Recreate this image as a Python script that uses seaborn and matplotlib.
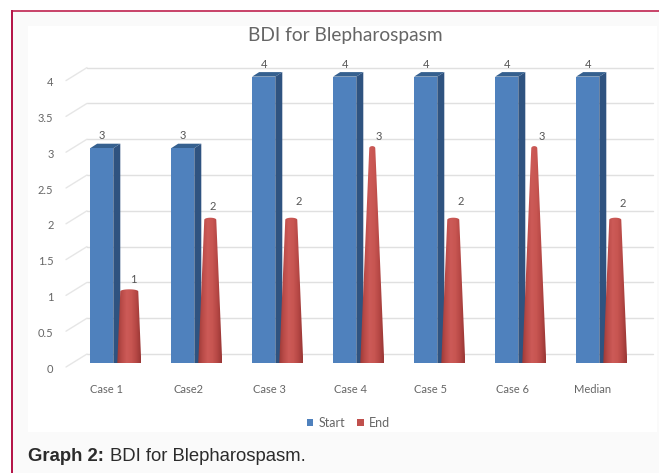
import numpy as np
import pandas as pd
import seaborn as sns
from matplotlib import pyplot as plt
from matplotlib.colors import LinearSegmentedColormap
from matplotlib.patches import Polygon, Rectangle
from matplotlib.transforms import ScaledTranslation

cases = ["Case 1", "Case2", "Case 3", "Case 4", "Case 5", "Case 6", "Median"]
start_vals = [3, 3, 4, 4, 4, 4, 4]
end_vals = [1, 2, 2, 3, 2, 3, 2]
y_ticks = [0, 0.5, 1, 1.5, 2, 2.5, 3, 3.5, 4]
y_tick_labels = ["0", "0.5", "1", "1.5", "2", "2.5", "3", "3.5", "4"]

W, H = 659, 473
STEP_X, STEP_Y = 81, 71.6
GRAY = "#666666"
FONT = "Lato"


def px(dx, dy):
    # pixel offset to points, for offset transforms
    return ScaledTranslation(dx / 100, -dy / 100, fig.dpi_scale_trans)


df = pd.DataFrame({
    "case": cases * 2,
    "score": start_vals + end_vals,
    "series": ["Start"] * 7 + ["End"] * 7,
})

sns.set_style("white")
plt.rcParams["font.family"] = [FONT, "DejaVu Sans"]

fig = plt.figure(figsize=(W / 100, H / 100), dpi=100, facecolor="white")


def fig_rect(x0, y0, x1, y1, color):
    fig.add_artist(Rectangle((x0 / W, 1 - y1 / H), (x1 - x0) / W, (y1 - y0) / H,
                             transform=fig.transFigure, color=color, lw=0, zorder=-5))


fig_rect(12, 11, W, H, "#fafafa")
fig_rect(28, 26, 657, 432, "#ffffff")
fig_rect(11, 10, W, 12, "#c9476c")
fig_rect(11, 10, 13, H, "#b5174a")

ax = fig.add_axes([75 / W, 1 - 363 / H, 567 / W, 4 * STEP_Y / H], facecolor="none")
ax.set_zorder(2)

sns.barplot(data=df, x="case", y="score", hue="series", order=cases,
            palette={"Start": "#4f81bd", "End": "#c0504d"},
            width=0.68, gap=0.16, saturation=1, errorbar=None, linewidth=0,
            ax=ax, zorder=4)

start_bars, end_bars = ax.containers[0], ax.containers[1]

# back wall grid plus the diagonals on the left side
x_l = (87 - 115.5) / STEP_X
x_r = (653 - 115.5) / STEP_X
x_front = (66 - 115.5) / STEP_X
back_y = 9 / STEP_Y
for v in y_ticks:
    ax.plot([x_l, x_r], [v + back_y, v + back_y], color="#e0e0e0", lw=1.0,
            clip_on=False, zorder=1)
    ax.plot([x_front, x_l], [v - 4 / STEP_Y, v + back_y], color="#e6e6e6", lw=1.0,
            clip_on=False, zorder=1)

# 3d faces of the start bars
dx3, dy3 = 7 / STEP_X, 4.5 / STEP_Y
for bar in start_bars:
    x0 = bar.get_x()
    x1 = x0 + bar.get_width()
    top = bar.get_height()
    ax.add_patch(Polygon([(x1, 0), (x1 + dx3, 0), (x1 + dx3, top + dy3), (x1, top)],
                         color="#2f5380", lw=0, clip_on=False, zorder=3))
    ax.add_patch(Polygon([(x0, top), (x0 + dx3, top + dy3), (x1 + dx3, top + dy3), (x1, top)],
                         color="#35608f", lw=0, clip_on=False, zorder=3))
    bar.set_clip_on(False)

ax.bar_label(start_bars, fmt="%g", padding=5, fontsize=8, color="#555555", zorder=6,
             family=FONT)

# end series is drawn as shaded cones on top of the hidden bars
cone_cmap = LinearSegmentedColormap.from_list(
    "cone", ["#9c3937", "#bb4c49", "#cc5a57", "#c85652", "#b64845", "#9a3735"])
shade = np.linspace(0, 1, 64).reshape(1, -1)
base_half = 12 / STEP_X
rx_y = 3 / STEP_Y
t = np.linspace(0, np.pi, 24)
label_dx = [4, 2, 7, 6, 7, 7, 7]
label_dy = [12, 13, 18, 12, 18, 12, 16]

for bar, v, ldx, ldy in zip(end_bars, end_vals, label_dx, label_dy):
    bar.set_visible(False)
    cx = bar.get_x() + bar.get_width() / 2
    top_half = base_half * (1 - v / 4)
    bottom = [(cx - base_half * np.cos(a), -rx_y * np.sin(a)) for a in t]
    top = [(cx + top_half * np.cos(a), v + 0.7 * rx_y * np.sin(a)) for a in t]
    im = ax.imshow(shade, extent=(cx - base_half, cx + base_half, -rx_y, v + rx_y),
                   aspect="auto", cmap=cone_cmap, zorder=5, clip_on=True)
    im.set_clip_path(Polygon(bottom + top, transform=ax.transData))
    ax.annotate(f"{v}", (cx, v), xytext=(ldx * 0.72, ldy * 0.72), textcoords="offset points",
                ha="center", va="center", fontsize=8, color="#555555", zorder=6,
                annotation_clip=False)

ax.set_xlim(-0.5, 6.5)
ax.set_ylim(0, 4)
sns.despine(ax=ax, left=True, bottom=True)
ax.set_xlabel("")
ax.set_ylabel("")
ax.set_yticks(y_ticks, y_tick_labels)
ax.tick_params(axis="both", length=0, labelsize=8, labelcolor=GRAY)
ax.tick_params(axis="y", pad=15.5)
ax.tick_params(axis="x", pad=15)
for label in ax.get_xticklabels():
    label.set_transform(label.get_transform() + px(-8.5, 0))
for label in ax.get_yticklabels():
    label.set_transform(label.get_transform() + px(0, 5))

sns.move_legend(ax, "center", bbox_to_anchor=((348.5 - 75) / 567, (363 - 423) / (4 * STEP_Y)),
                ncol=2, frameon=False, title=None, fontsize=9, labelcolor=GRAY,
                handlelength=0.55, handleheight=0.55, handletextpad=0.45, columnspacing=0.9)

fig.text(345 / W, 1 - 35 / H, "BDI for Blepharospasm", ha="center", va="center",
         fontsize=13.8, color="#666666", family=FONT)
fig.text(28 / W, 1 - 456 / H, "Graph 2:", ha="left", va="center", fontsize=13.3,
         fontweight="bold", color="#2b2b2b", family="Liberation Sans")
fig.text(110 / W, 1 - 456 / H, "BDI for Blepharospasm.", ha="left", va="center",
         fontsize=13.3, color="#2b2b2b", family="Liberation Sans")

fig.savefig("out.png", dpi=100)
